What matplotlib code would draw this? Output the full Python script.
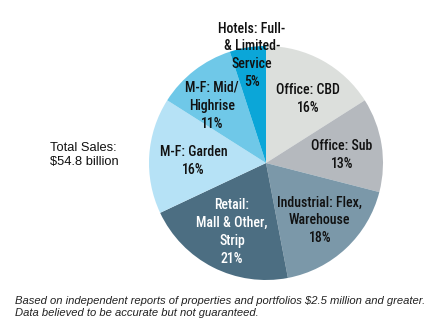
import matplotlib
matplotlib.use("Agg")
import matplotlib.pyplot as plt
from matplotlib import font_manager
from matplotlib.font_manager import FontProperties

# sector shares, clockwise from 12 o'clock
labels = ["Office: CBD", "Office: Sub", "Industrial: Flex,\nWarehouse",
          "Retail:\nMall & Other,\nStrip", "M-F: Garden", "M-F: Mid/\nHighrise",
          "Hotels: Full-\n& Limited-\nService"]
shares = [16, 13, 18, 21, 16, 11, 5]
colors = ["#dcdfdc", "#b5b9be", "#7b98a9", "#4c6e82", "#b6e2f6", "#6fc8e8", "#0ba6d8"]
text_colors = ["#111111", "#111111", "#111111", "white", "#111111", "#111111", "#111111"]
# label centres in pie units (radius 1)
label_pos = [(0.36, 0.55), (0.65, 0.07), (0.46, -0.49), (-0.29, -0.59),
             (-0.62, 0.02), (-0.46, 0.49), (-0.12, 0.92)]


def narrow_font(size):
    # pick a condensed face if one is installed
    files = [f.fname for f in font_manager.fontManager.ttflist]
    for key in ["RobotoCondensed-Medium", "LiberationSansNarrow-Regular",
                "RobotoCondensed-Regular", "DejaVuSansCondensed.ttf"]:
        for fn in files:
            if key in fn:
                return FontProperties(fname=fn, size=size)
    return FontProperties(family="DejaVu Sans", stretch="condensed", size=size)


W, H = 432, 328
fig = plt.figure(figsize=(W / 100, H / 100), dpi=100)
cx, cy, r = 266, 163, 117
ax = fig.add_axes([(cx - r) / W, (H - cy - r) / H, 2 * r / W, 2 * r / H])
ax.pie(shares, colors=colors, startangle=90, counterclock=False, radius=1,
       wedgeprops=dict(linewidth=0))
ax.set_xlim(-1, 1)
ax.set_ylim(-1, 1)
ax.axis("off")

fp = narrow_font(10)
for lab, s, (x, y), tc in zip(labels, shares, label_pos, text_colors):
    ax.text(x, y, f"{lab}\n{s}%", ha="center", va="center", fontproperties=fp,
            color=tc, linespacing=1.35, clip_on=False)

fig.text(50 / W, 1 - 155 / H, "Total Sales:\n$54.8 billion", ha="left", va="center",
         fontsize=9.3, family="Liberation Sans", color="#111111", linespacing=1.2)

fig.text(15 / W, 1 - 307 / H,
         "Based on independent reports of properties and portfolios $2.5 million and greater.\n"
         "Data believed to be accurate but not guaranteed.",
         ha="left", va="center", fontsize=8.1, style="italic",
         family="Liberation Sans", color="#222222", linespacing=1.2)

fig.savefig("out.png", dpi=100, facecolor="white")
